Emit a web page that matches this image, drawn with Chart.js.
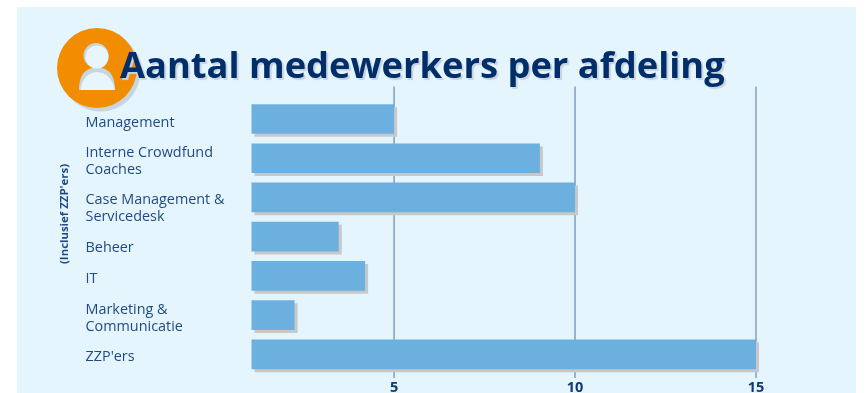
<!DOCTYPE html>
<html lang="nl">
<head>
<meta charset="utf-8">
<title>Aantal medewerkers per afdeling</title>
<script src="https://cdn.jsdelivr.net/npm/chart.js@4"></script>
<style>
    html, body { margin: 0; padding: 0; background: #fff; overflow: hidden; }
    #wrap { position: relative; width: 865px; height: 393px; }
    #paneel { position: absolute; left: 17px; top: 7px; width: 839px; height: 386px; background: #e5f5fe; }
    #grafiek { position: absolute; left: 0; top: 0; }
    #icoon { position: absolute; left: 50px; top: 20px; }
    h1 {
        position: absolute; left: 120px; top: 39px; margin: 0;
        font: 700 36.3px/50px "Open Sans", sans-serif; color: #002e6b;
        text-shadow: 2px 2px 1px #c9d3dc; white-space: nowrap;
    }
</style>
</head>
<body>
<div id="wrap">
    <div id="paneel"></div>
    <canvas id="grafiek" width="865" height="393"></canvas>
    <svg id="icoon" width="100" height="100" viewBox="0 0 100 100">
        <circle cx="50.500" cy="51.500" r="40" fill="#c7d5de"/>
        <circle cx="47" cy="48" r="40" fill="#f28c00"/>
        <path d="M29 70 Q29 47.500 47 47.500 Q65 47.500 65 70 Z" fill="#c7d5de"/>
        <path d="M30.500 70 Q33 53 47 52 Q61 53 65 70 Z" fill="#e8f5fd"/>
        <circle cx="46" cy="35.500" r="12.500" fill="#c7d5de"/>
        <circle cx="47" cy="37" r="11.500" fill="#e8f5fd"/>
    </svg>
    <h1>Aantal medewerkers per afdeling</h1>
</div>

<script>
// Medewerkers per afdeling
const afdelingen = [
    'Management',
    ['Interne Crowdfund', 'Coaches'],
    ['Case Management &', 'Servicedesk'],
    'Beheer',
    'IT',
    ['Marketing &', 'Communicatie'],
    "ZZP'ers"
];
const aantallen = [5, 9.03, 10, 3.47, 4.2, 2.25, 15];
const asTicks = [5, 10, 15];
const asTitel = "(Inclusief ZZP'ers)";

const asMin = 1.06;
const asMax = 15;

// De labels staan niet precies naast hun balk
const labelVerschuiving = [3.5, 3.5, 11, 11.5, 3, 3.5, 3];
const labelRegel = 17;

// Verticale lijnen lopen boven en onder het plotgebied door, dus zelf tekenen
const lijnenPlugin = {
    id: 'lijnen',
    beforeDatasetsDraw(chart) {
        const { ctx, chartArea, scales } = chart;
        ctx.save();
        ctx.strokeStyle = '#7f9fc6';
        ctx.lineWidth = 1.5;
        asTicks.forEach(t => {
            const x = scales.x.getPixelForValue(t);
            ctx.beginPath();
            ctx.moveTo(x, chartArea.top - 13);
            ctx.lineTo(x, chartArea.bottom + 4);
            ctx.stroke();
        });
        ctx.restore();
    }
};

// Harde grijze schaduw achter de balken
const schaduwPlugin = {
    id: 'schaduw',
    beforeDatasetDraw(chart) {
        const { ctx } = chart;
        ctx.save();
        ctx.shadowColor = '#c8c8c8';
        ctx.shadowOffsetX = 3;
        ctx.shadowOffsetY = 3;
        ctx.shadowBlur = 0;
    },
    afterDatasetDraw(chart) {
        chart.ctx.restore();
    }
};

// Afdelingsnamen en de gedraaide astitel
const tekstPlugin = {
    id: 'tekst',
    afterDraw(chart) {
        const { ctx, scales } = chart;
        ctx.save();
        ctx.font = '14.4px "Open Sans"';
        ctx.fillStyle = '#1f4a85';
        ctx.textAlign = 'left';
        ctx.textBaseline = 'middle';
        afdelingen.forEach((naam, i) => {
            const regels = [].concat(naam);
            const midden = scales.y.getPixelForValue(i) + labelVerschuiving[i];
            regels.forEach((regel, r) => {
                ctx.fillText(regel, scales.y.left, midden + (r - (regels.length - 1) / 2) * labelRegel);
            });
        });

        ctx.translate(65, 214);
        ctx.rotate(-Math.PI / 2);
        ctx.font = '700 11.4px "Open Sans"';
        ctx.textAlign = 'center';
        ctx.fillText(asTitel, 0, 0);
        ctx.restore();
    }
};

new Chart(document.getElementById('grafiek').getContext('2d'), {
    type: 'bar',
    data: {
        labels: afdelingen,
        datasets: [{
            data: aantallen,
            base: asMin,
            backgroundColor: '#6cb0df',
            barPercentage: 0.757,
            categoryPercentage: 1,
            clip: false
        }]
    },
    options: {
        indexAxis: 'y',
        responsive: false,
        animation: false,
        layout: { padding: { left: 85.5, right: 109, top: 99.4, bottom: 0 } },
        plugins: { legend: { display: false }, tooltip: { enabled: false } },
        scales: {
            x: {
                type: 'linear',
                min: asMin,
                max: asMax,
                afterBuildTicks(scale) { scale.ticks = asTicks.map(v => ({ value: v })); },
                afterFit(scale) { scale.height = 19; },
                grid: { display: false, drawTicks: false },
                border: { display: false },
                ticks: {
                    padding: 5,
                    maxRotation: 0,
                    color: '#0f3a72',
                    font: { family: '"Open Sans"', size: 14.5, weight: '700' }
                }
            },
            y: {
                afterFit(scale) { scale.width = 166; },
                grid: { display: false },
                border: { display: false },
                ticks: { display: false }
            }
        }
    },
    plugins: [lijnenPlugin, schaduwPlugin, tekstPlugin]
});
</script>
</body>
</html>
